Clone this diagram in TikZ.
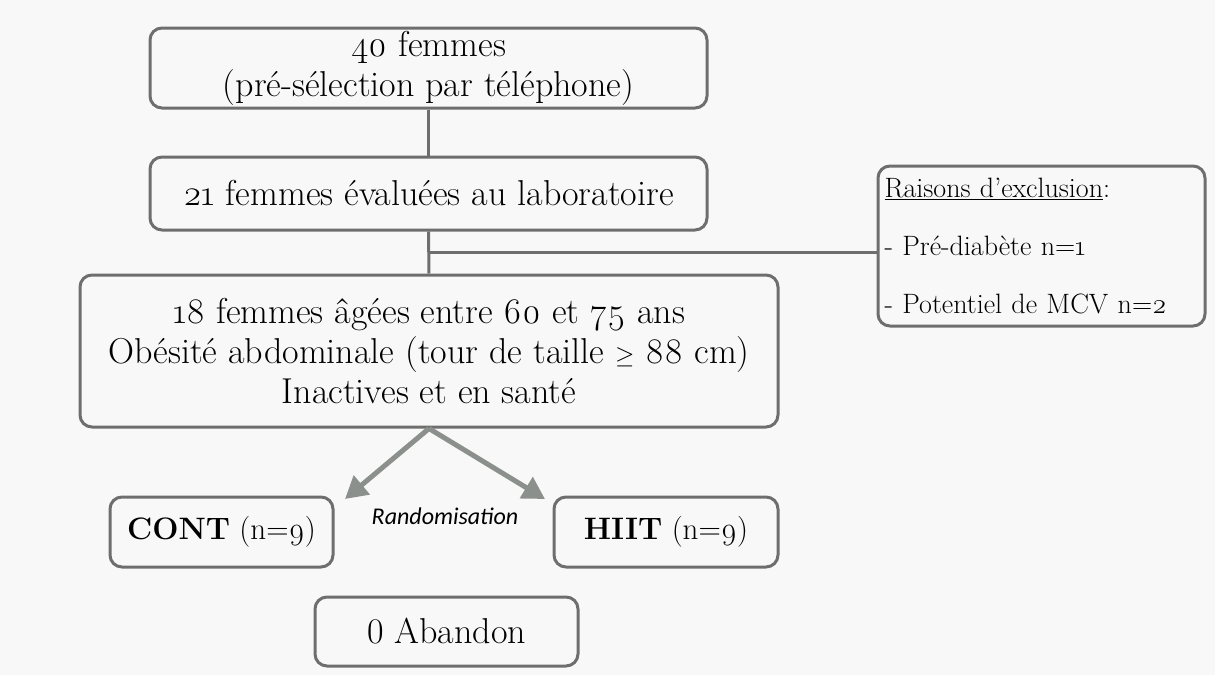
\documentclass[tikz,border=0pt]{standalone}
\usepackage{fontspec}
\setmainfont{Latin Modern Roman}[Numbers=OldStyle]
\newfontfamily\randfont{Carlito}
\usetikzlibrary{arrows.meta}
\definecolor{bord}{HTML}{6E6E6E}
\definecolor{arr}{HTML}{8C908C}
\definecolor{bg}{HTML}{F8F8F8}
\begin{document}
\begin{tikzpicture}[x=1pt,y=-1pt,
  box/.style={draw=bord,line width=3pt,rounded corners=12pt,align=center,inner sep=0pt,
    font=\fontsize{36}{40}\selectfont},
  small/.style={font=\fontsize{31}{40}\selectfont},
  link/.style={draw=bord,line width=3pt},
  split/.style={draw=arr,line width=5pt,-{Triangle[length=22pt,width=24pt]}}]
\fill[bg] (0,0) rectangle (1215,675);
\useasboundingbox (0,0) rectangle (1215,675);
\node[box,minimum width=557pt,minimum height=80pt] (b1) at (428.5,68)
  {40 femmes\\(pré-sélection par téléphone)};
\node[box,minimum width=557pt,minimum height=73pt] (b2) at (428.5,193.5)
  {21 femmes évaluées au laboratoire};
\node[box,minimum width=327pt,minimum height=160pt,align=left,text width=314pt,
  font=\fontsize{28}{58}\selectfont] (ex) at (1041.5,246)
  {\underline{Raisons d’exclusion}:\\- Pré-diabète n=1\\- Potentiel de MCV n=2};
\node[box,minimum width=698pt,minimum height=152pt] (b3) at (429,351)
  {18 femmes âgées entre 60 et 75 ans\\Obésité abdominale (tour de taille $\geq$ 88 cm)\\Inactives et en santé};
\node[box,small,minimum width=223pt,minimum height=70pt] (cont) at (221.5,532)
  {\textbf{CONT} (n=9)};
\node[box,small,minimum width=224pt,minimum height=70pt] (hiit) at (666,532)
  {\textbf{HIIT} (n=9)};
\node[box,minimum width=263pt,minimum height=69pt] (ab) at (446.5,631.5)
  {{\addfontfeatures{Numbers=Lining}0} Abandon};
\node[font=\randfont\itshape\fontsize{24}{28}\selectfont] (rand) at (445,516) {Randomisation};
\coordinate (j) at (b2.south |- 0,252);
\coordinate (tl) at (345,499);
\coordinate (tr) at (545,499);
\draw[link] (b1.south) -- (b2.north);
\draw[link] (b2.south) -- (b3.north);
\draw[link] (j) -- (ex.west |- j);
\draw[split] (b3.south) -- (tl);
\draw[split] (b3.south) -- (tr);
\end{tikzpicture}
\end{document}
